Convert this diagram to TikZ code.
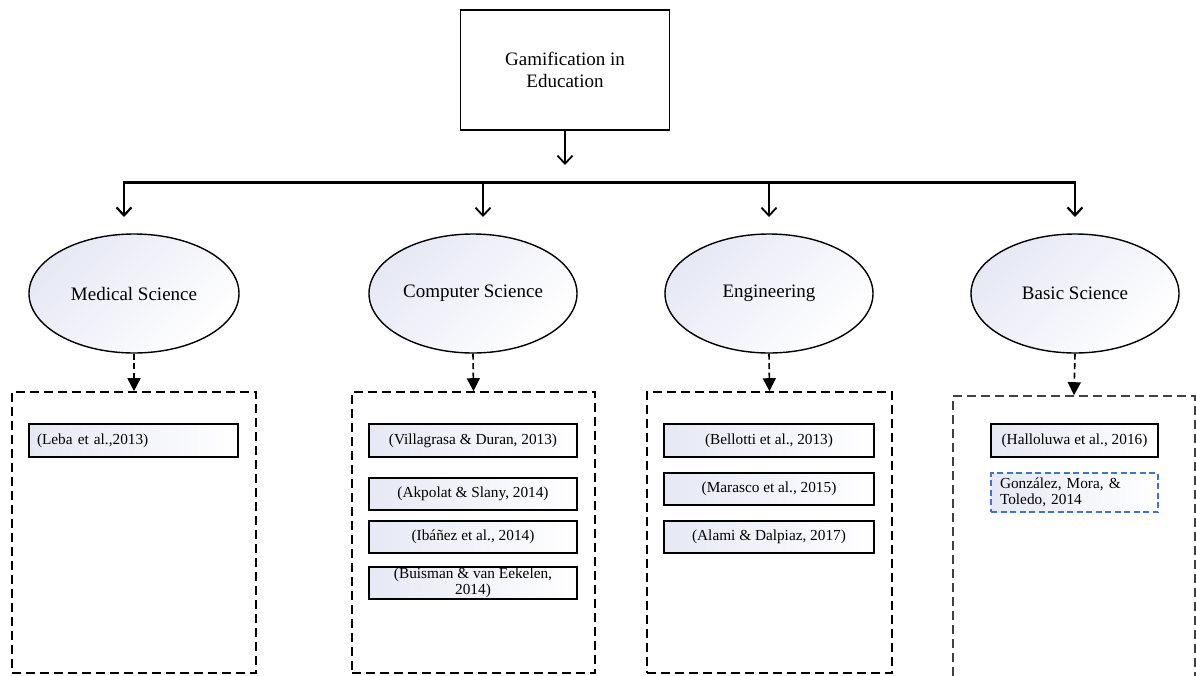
\documentclass[tikz,border=0pt]{standalone}
\usepackage{fontspec}
\setmainfont{Liberation Serif}
\usetikzlibrary{arrows.meta,shapes.geometric}
\definecolor{lav}{HTML}{E6E8F5}
\definecolor{refblue}{HTML}{4472C4}
\begin{document}
\begin{tikzpicture}[x=1pt,y=-1pt,
  topbox/.style={draw, line width=1.5pt, fill=white, minimum width=209pt,
    minimum height=120pt, inner sep=0pt, align=center,
    font=\fontsize{19}{22}\selectfont},
  field/.style={ellipse, draw, line width=1.4pt, top color=lav, bottom color=white,
    shading angle=45, minimum width=208pt, minimum height=119pt, inner sep=0pt,
    font=\fontsize{19}{22}\selectfont},
  group/.style={draw, line width=1.6pt, dash pattern=on 9pt off 5pt,
    minimum width=#1, minimum height=281pt, inner sep=0pt},
  cite/.style={draw, line width=1.6pt, left color=lav, right color=white,
    minimum width=#1, minimum height=32pt, inner sep=0pt, align=center,
    font=\fontsize{15.3}{16.5}\selectfont},
  citeleft/.style={draw, line width=1.6pt, left color=lav, right color=white,
    text width=#1, inner xsep=8pt, inner ysep=0pt, minimum height=33pt, align=left,
    font=\fontsize{15.3}{16}\selectfont},
  openhead/.style={line width=1.8pt, -{Straight Barb[length=8pt,width=15pt]}},
  fallarrow/.style={line width=1.6pt, dash pattern=on 6pt off 3.5pt,
    -{Triangle[length=13pt,width=13pt]}},
]
\useasboundingbox (0,0) rectangle (1196,675);

% root
\node[topbox] (root) at (565,70) {Gamification in\\Education};
\coordinate (rootend) at (565,165);
\draw[openhead] (root.south) -- (rootend);

% distribution bus
\coordinate (d1) at (124,182.5);
\coordinate (d2) at (483,182.5);
\coordinate (d3) at (769,182.5);
\coordinate (d4) at (1075,182.5);
\coordinate (t1) at (124,217);
\coordinate (t2) at (483,217);
\coordinate (t3) at (769,217);
\coordinate (t4) at (1075,217);
\draw[line width=2.2pt, {Straight Barb[length=8pt,width=15pt]}-{Straight Barb[length=8pt,width=15pt]}]
  (t1) -- (d1) -- (d4) -- (t4);
\draw[openhead] (d2) -- (t2);
\draw[openhead] (d3) -- (t3);

% fields
\node[field, minimum width=210pt] (med) at (134,293.5) {Medical Science};
\node[field] (comp) at (473,293.5) {Computer Science};
\node[field] (eng) at (769,293.5) {Engineering};
\node[field] (basic) at (1075,293.5) {Basic Science};

% groups of studies
\node[group=244pt] (g1) at (134,532.5) {};
\node[group=243pt] (g2) at (473.5,532.5) {};
\node[group=245pt] (g3) at (769.5,532.5) {};
\node[group=242pt, draw=black!75] (g4) at (1074,536.5) {};

\draw[fallarrow] (med.south) -- (g1.north);
\draw[fallarrow] (comp.south) -- (g2.north);
\draw[fallarrow] (eng.south) -- (g3.north);
\draw[fallarrow] (basic.south) -- (g4.north);

% studies
\node[citeleft=193pt] (leba) at (133.5,440.5) {(Leba et al.,2013)};

\node[cite=208pt, minimum height=33pt] (vill) at (473,440.5) {(Villagrasa \& Duran, 2013)};
\node[cite=208pt] (akp) at (473,494) {(Akpolat \& Slany, 2014)};
\node[cite=208pt] (iba) at (473,537) {(Ibáñez et al., 2014)};
\node[cite=208pt] (buis) at (473,583) {(Buisman \& van Eekelen,\\2014)};

\node[cite=210pt, minimum height=33pt] (bell) at (769,440.5) {(Bellotti et al., 2013)};
\node[cite=210pt] (mar) at (769,489) {(Marasco et al., 2015)};
\node[cite=210pt] (alami) at (769,537) {(Alami \& Dalpiaz, 2017)};

\node[cite=167pt, minimum height=33pt] (hall) at (1074.5,440.5) {(Halloluwa et al., 2016)};
\node[citeleft=149pt, inner xsep=9pt, minimum height=39pt, draw=refblue,
  line width=1.3pt, dash pattern=on 6pt off 3.5pt] (gonz) at (1074.5,492.5)
  {González, Mora, \&\\Toledo, 2014};
\end{tikzpicture}
\end{document}
